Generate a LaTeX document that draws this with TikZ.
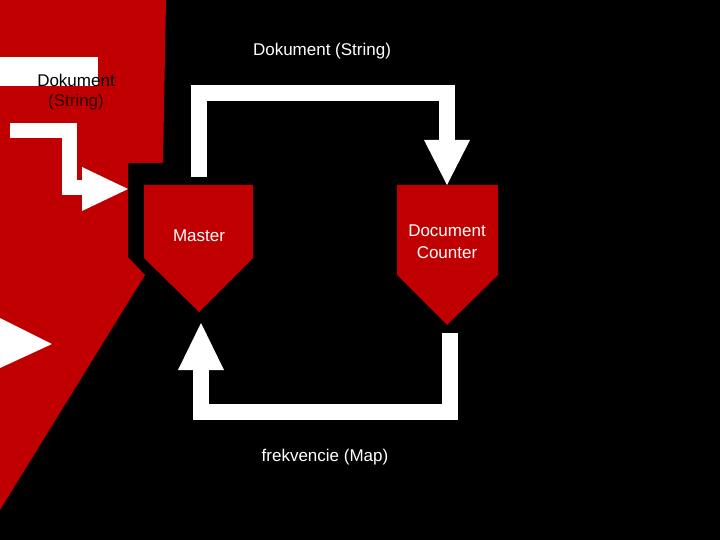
\documentclass[tikz,border=0pt]{standalone}
\usepackage{fontspec}
\setmainfont{Liberation Sans}
\definecolor{dred}{RGB}{192,0,0}
\begin{document}
\begin{tikzpicture}[x=1pt,y=-1pt,
  lbl/.style={font=\fontsize{17}{20}\selectfont,text=white,align=center,inner sep=0pt},
  wbar/.style={draw=white,line width=16pt},
  whead/.style={fill=white}]
\useasboundingbox (0,0) rectangle (720,540);
\fill[black] (0,0) rectangle (720,540);
\fill[dred] (0,0)--(166,0)--(163,163)--(128,163)--(128,257)--(145,275)--(0,510)--cycle;
\fill[white] (0,57) rectangle (98,86);
\node[lbl,text=black] (dl1) at (76,80) {Dokument};
\node[lbl,text=black!80!dred] (dl2) at (76,102) {(String)};
% left arrow
\draw[draw=white,line width=15pt] (10,130.5)--(69.5,130.5)--(69.5,188)--(85,188);
\fill[white] (82,167)--(82,211)--(128,189)--cycle;
\fill[white] (0,318)--(0,368)--(52,344)--cycle;
% pentagons
\fill[dred] (144,185)--(253,185)--(253,258)--(199,312)--(144,258)--cycle;
\node[lbl] (master) at (199,236) {Master};
\fill[dred] (397,185)--(498,185)--(498,275)--(447,325)--(397,275)--cycle;
\node[lbl] (dc) at (447,242) {Document\\[2pt]Counter};
% top connector
\draw[wbar] (199,177)--(199,93)--(447,93)--(447,141);
\fill[white] (424,140)--(470,140)--(447,185)--cycle;
\node[lbl] (t1) at (322,51) {Dokument (String)};
% bottom connector
\draw[wbar] (450,333)--(450,412)--(201,412)--(201,369);
\fill[white] (178,370)--(224,370)--(201,323)--cycle;
\node[lbl] (t2) at (325,457) {frekvencie (Map)};
\end{tikzpicture}
\end{document}
